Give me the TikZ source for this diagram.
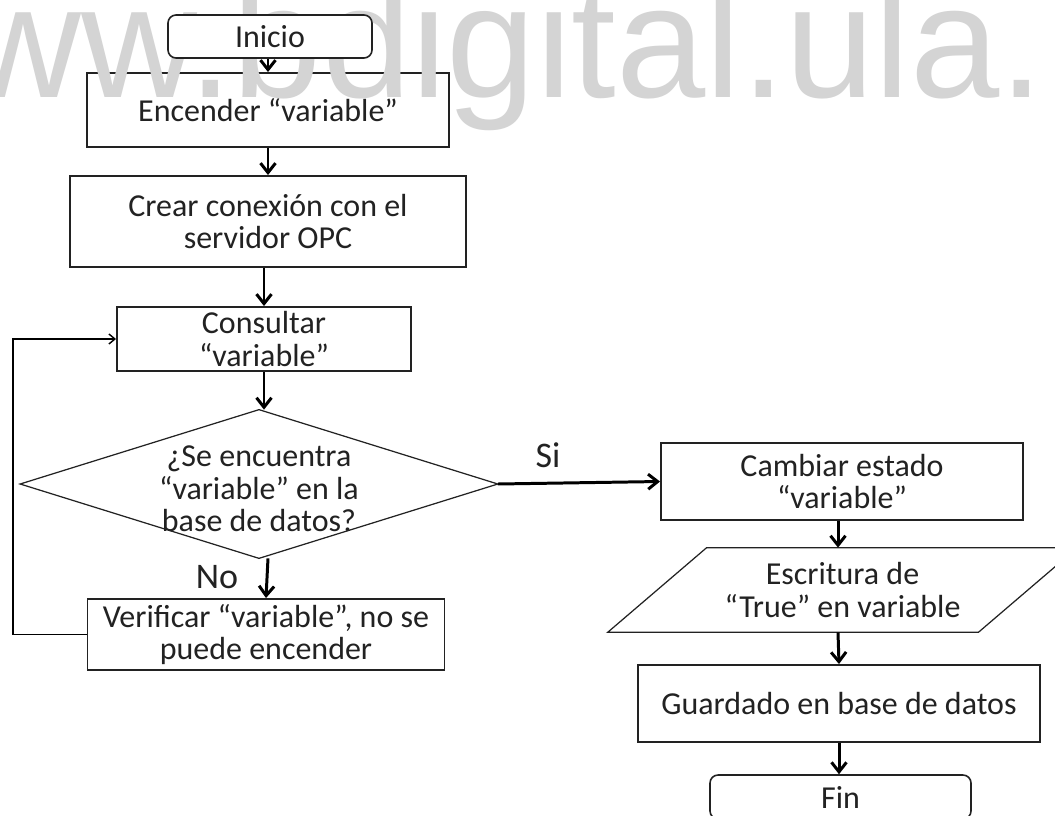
\documentclass[tikz,border=0pt]{standalone}
\usepackage{fontspec}
\setmainfont{Carlito}
\newfontfamily\wmfont{Liberation Sans}
\usetikzlibrary{arrows.meta,calc}
\newlength\pxu
\setlength\pxu{0.02cm}
\definecolor{ink}{HTML}{222222}
\definecolor{wmgray}{HTML}{D4D4D4}
\pgfdeclarelayer{wmlayer}
\pgfdeclarelayer{toplayer}
\pgfsetlayers{main,wmlayer,toplayer}
\begin{document}
\begin{tikzpicture}[x=0.02cm,y=-0.02cm,
  txt/.style={font=\fontsize{18.2}{18.4}\selectfont, text=ink, align=center, inner sep=0pt},
  procbox/.style={txt, draw=ink, line width=1.1pt, rectangle},
  termbox/.style={txt, draw=ink, line width=0.9pt, rectangle, rounded corners=8\pxu},
  outline/.style={draw=ink, line width=0.7pt},
  flow/.style={line width=1.7pt, draw=black, -{Straight Barb[length=0.19cm,width=0.3cm,line width=1.7pt]}},
  backflow/.style={line width=0.8pt, draw=black, -{Straight Barb[length=0.12cm,width=0.2cm,line width=0.8pt]}},
  lbl/.style={font=\fontsize{20.5}{22}\selectfont, text=ink, inner sep=0pt}
]
\useasboundingbox (0,0) rectangle (1055,815);
\clip (0,0) rectangle (1055,815);
\fill[white] (0,0) rectangle (1055,815);

% start terminal sits above the watermark, white filled
\begin{pgfonlayer}{toplayer}
\node[termbox, fill=white, minimum width=204\pxu, minimum height=43\pxu] (ini) at (270,36.5) {Inicio};
\end{pgfonlayer}

% repository watermark across the top
\begin{pgfonlayer}{wmlayer}
\node[anchor=base west, inner sep=0pt, text=wmgray,
      font=\wmfont\fontsize{91.3}{100}\selectfont] (wm) at (-150.7,97) {www.bdigital.ula.};
\end{pgfonlayer}

% left column
\node[procbox, minimum width=362\pxu, minimum height=74\pxu] (enc) at (268,110) {Encender “variable”};
\node[procbox, minimum width=396\pxu, minimum height=91\pxu] (cre) at (268,221.5) {Crear conexión con el\\servidor OPC};
\node[procbox, minimum width=294\pxu, minimum height=64\pxu] (con) at (264,339) {Consultar\\“variable”};
% decision: outline from the anchors of an empty frame node, text set separately
\node[inner sep=0pt, minimum width=477\pxu, minimum height=148\pxu] (dia) at (259,484) {};
\draw[outline] (dia.north) -- (dia.east) -- (dia.south) -- (dia.west) -- cycle;
\node[txt] (diatext) at ([yshift=-5\pxu]dia.center) {¿Se encuentra\\“variable” en la\\base de datos?};
\node[procbox, minimum width=357\pxu, minimum height=71\pxu] (ver) at (266,634.5) {Verificar “variable”, no se\\puede encender};

% right column
\node[procbox, minimum width=362\pxu, minimum height=77\pxu] (cam) at (842,481.5) {Cambiar estado\\“variable”};
\node[txt, minimum width=370\pxu, minimum height=84\pxu] (esc) at (842.5,590) {Escritura de\\“True” en variable};
\draw[outline]
  ([xshift=-49.5\pxu]esc.south west) -- ([xshift=49.5\pxu]esc.north west) --
  ([xshift=49.5\pxu]esc.north east) -- ([xshift=-49.5\pxu]esc.south east) -- cycle;
\node[procbox, minimum width=402\pxu, minimum height=77\pxu] (gua) at (839,703.5) {Guardado en base de datos};
\node[termbox, minimum width=261\pxu, minimum height=44\pxu] (fin) at (840.5,797) {Fin};

% connectors
\draw[flow] ([xshift=-2\pxu]ini.south) -- (enc.north);
\draw[flow] (enc.south) -- (cre.north);
\draw[flow] (cre.south -| con.north) -- (con.north);
\draw[flow] (con.south) -- (con.south |- dia.north);
\draw[flow] ([xshift=9\pxu]dia.south) -- (ver.north);
\draw[flow] (dia.east) -- (cam.west);
\draw[flow] ([xshift=-4\pxu]cam.south) -- ([xshift=-4.5\pxu]esc.north);
\draw[flow] ([xshift=-4.5\pxu]esc.south) -- (gua.north);
\draw[flow] (gua.south) -- (gua.south |- fin.north);

\coordinate (lp) at (13,339);
\draw[backflow] (ver.west) -| (lp) -- (con.west);

% branch labels
\node[lbl] (lno) at (217,577) {No};
\node[lbl] (lsi) at (548,455) {Si};
\end{tikzpicture}
\end{document}
